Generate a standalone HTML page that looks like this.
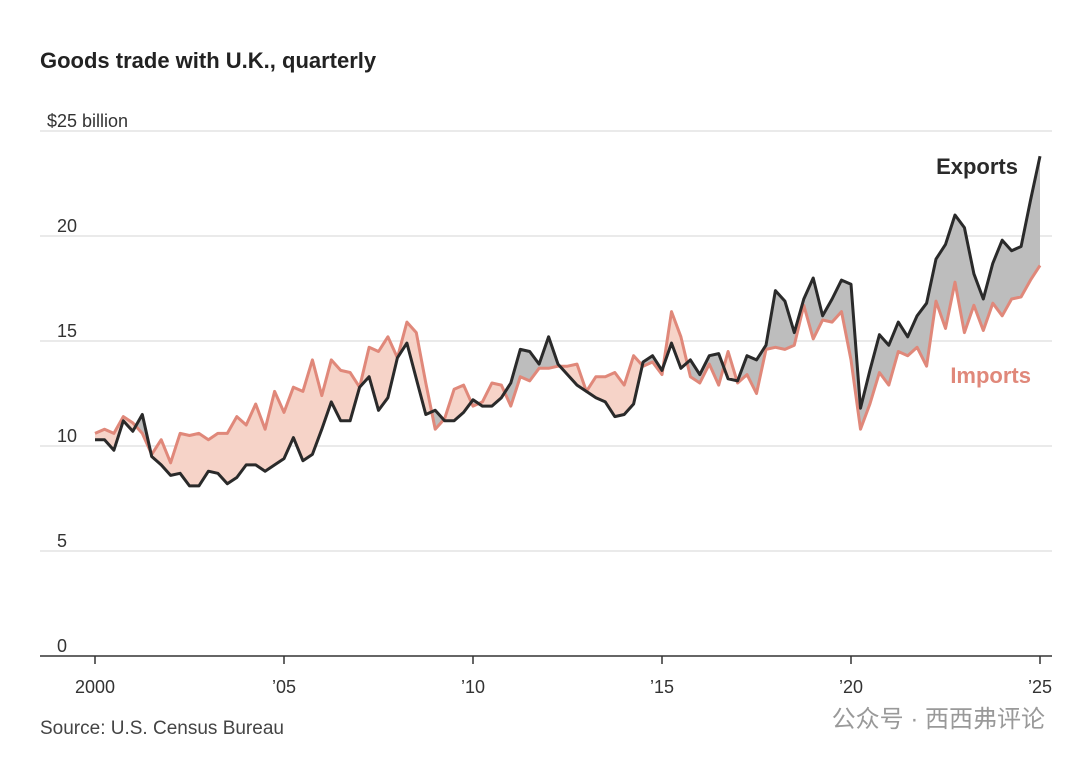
<!DOCTYPE html>
<html><head><meta charset="utf-8"><style>
body{margin:0;background:#fff;width:1080px;height:762px;overflow:hidden;font-family:"Liberation Sans","Noto Sans CJK SC",sans-serif}
</style></head><body>
<svg width="1080" height="762">
<text x="40" y="68" font-size="22" font-weight="bold" fill="#222">Goods trade with U.K., quarterly</text>
<g id="grid"></g>
<defs>
<clipPath id="belowExp"><path id="cBE"/></clipPath>
<clipPath id="belowImp"><path id="cBI"/></clipPath>
</defs>
<path id="grayFill" fill="#bdbdbd" clip-path="url(#belowExp)"/>
<path id="pinkFill" fill="#f6d3c8" clip-path="url(#belowImp)"/>
<path id="impLine" fill="none" stroke="#e0887a" stroke-width="3" stroke-linejoin="round"/>
<path id="expLine" fill="none" stroke="#2a2a2a" stroke-width="3" stroke-linejoin="round"/>
<line x1="40" x2="1052" y1="656" y2="656" stroke="#333" stroke-width="1.5"/>
<g id="xt"></g>
<text x="1018" y="174" text-anchor="end" font-size="22" font-weight="bold" fill="#2a2a2a">Exports</text>
<text x="1031" y="383" text-anchor="end" font-size="22" font-weight="bold" fill="#e0887a">Imports</text>
<text x="40" y="734" font-size="19" fill="#444">Source: U.S. Census Bureau</text>
<text x="1045" y="727" text-anchor="end" font-size="24" fill="#999">公众号 · 西西弗评论</text>
</svg>
<script>
const yTicks=[0,5,10,15,20,25];
const xTickYears=[2000,2005,2010,2015,2020,2025];
const xTickLabels=["2000","’05","’10","’15","’20","’25"];
const exportsData=[10.3,10.3,9.8,11.2,10.7,11.5,9.5,9.1,8.6,8.7,8.1,8.1,8.8,8.7,8.2,8.5,9.1,9.1,8.8,9.1,9.4,10.4,9.3,9.6,10.8,12.1,11.2,11.2,12.8,13.3,11.7,12.3,14.2,14.9,13.2,11.5,11.7,11.2,11.2,11.6,12.2,11.9,11.9,12.3,13.0,14.6,14.5,13.9,15.2,13.9,13.4,12.9,12.6,12.3,12.1,11.4,11.5,12.0,14.0,14.3,13.6,14.9,13.7,14.1,13.4,14.3,14.4,13.2,13.1,14.3,14.1,14.8,17.4,16.9,15.4,17.0,18.0,16.2,17.0,17.9,17.7,11.8,13.6,15.3,14.8,15.9,15.2,16.2,16.8,18.9,19.6,21.0,20.4,18.2,17.0,18.7,19.8,19.3,19.5,21.7,23.8];
const importsData=[10.6,10.8,10.6,11.4,11.1,10.6,9.6,10.3,9.2,10.6,10.5,10.6,10.3,10.6,10.6,11.4,11.0,12.0,10.8,12.6,11.6,12.8,12.6,14.1,12.4,14.1,13.6,13.5,12.8,14.7,14.5,15.2,14.2,15.9,15.4,13.0,10.8,11.3,12.7,12.9,11.9,12.1,13.0,12.9,11.9,13.3,13.1,13.7,13.7,13.8,13.8,13.9,12.6,13.3,13.3,13.5,12.9,14.3,13.8,14.0,13.4,16.4,15.2,13.3,13.0,13.9,12.9,14.5,13.0,13.4,12.5,14.6,14.7,14.6,14.8,16.7,15.1,16.0,15.9,16.4,14.1,10.8,12.0,13.5,12.9,14.5,14.3,14.7,13.8,16.9,15.6,17.8,15.4,16.7,15.5,16.8,16.2,17.0,17.1,17.9,18.6];
const NS="http://www.w3.org/2000/svg";
const y=v=>656-v*(656-131)/25;
const xYear=t=>95+(t-2000)*(1040-95)/25;
const xi=i=>xYear(2000+i/4);
const line=a=>a.map((v,i)=>(i?"L":"M")+xi(i).toFixed(1)+","+y(v).toFixed(1)).join("");
const n=exportsData.length, m=importsData.length;
const eL=line(exportsData), iL=line(importsData);
document.getElementById('expLine').setAttribute('d',eL);
document.getElementById('impLine').setAttribute('d',iL);
const xEnd=xi(n-1), xEndI=xi(m-1);
document.getElementById('cBE').setAttribute('d',eL+`L${xEnd},700L${xi(0)},700Z`);
document.getElementById('cBI').setAttribute('d',iL+`L${xEndI},700L${xi(0)},700Z`);
document.getElementById('grayFill').setAttribute('d',iL+`L${xEndI},0L${xi(0)},0Z`);
document.getElementById('pinkFill').setAttribute('d',eL+`L${xEnd},0L${xi(0)},0Z`);
const g=document.getElementById('grid');
yTicks.forEach(t=>{
 if(t>0){const l=document.createElementNS(NS,'line');
 l.setAttribute('x1',40);l.setAttribute('x2',1052);l.setAttribute('y1',y(t));l.setAttribute('y2',y(t));
 l.setAttribute('stroke','#e3e3e3');l.setAttribute('stroke-width','1.5');
 
 
 g.appendChild(l);}
 const tx=document.createElementNS(NS,'text');
 tx.setAttribute('x',t===25?47:57);tx.setAttribute('y',y(t)-4);
 tx.setAttribute('font-size','18');tx.setAttribute('fill','#333');
 tx.textContent=t===25?'$25 billion':String(t);
 
 
 g.appendChild(tx);
});
const xt=document.getElementById('xt');
xTickYears.forEach((yr,k)=>{
 const l=document.createElementNS(NS,'line');
 l.setAttribute('x1',xYear(yr));l.setAttribute('x2',xYear(yr));l.setAttribute('y1',656);l.setAttribute('y2',664);
 l.setAttribute('stroke','#333');l.setAttribute('stroke-width','1.5');
 
 
 xt.appendChild(l);
 const tx=document.createElementNS(NS,'text');
 tx.setAttribute('x',xYear(yr));tx.setAttribute('y',693);tx.setAttribute('text-anchor','middle');
 tx.setAttribute('font-size','18');tx.setAttribute('fill','#333');
 tx.textContent=xTickLabels[k];
 
 
 xt.appendChild(tx);
});
</script>
</body></html>
